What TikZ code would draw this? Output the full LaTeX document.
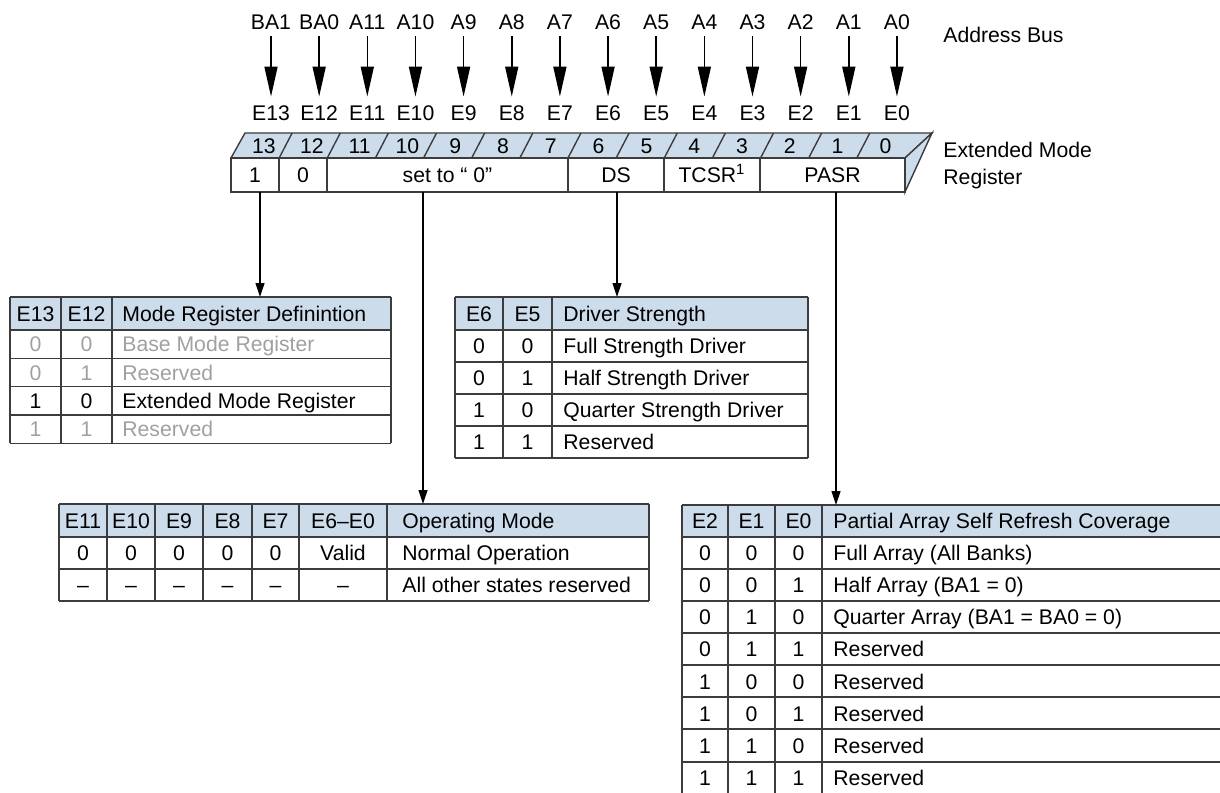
\documentclass[tikz,border=0pt]{standalone}
\usepackage{fontspec}
\setmainfont{Liberation Sans}
\usetikzlibrary{arrows.meta,positioning}

\definecolor{hdrblue}{RGB}{204,220,234}
\definecolor{rulegray}{RGB}{60,60,60}
\definecolor{dimgray}{RGB}{160,160,160}

\begin{document}
\begin{tikzpicture}[x=0.5pt, y=-0.5pt,
    txt/.style={font=\fontsize{10.6}{13}\selectfont, inner sep=0pt, text height=7.6pt, text depth=0pt},
    lft/.style={txt, anchor=west},
    busarrow/.style={-{Triangle[length=15pt,width=6.5pt]}, line width=0.8pt, shorten <=3.2pt, shorten >=4.2pt},
    link/.style={-{Triangle[length=7pt,width=4.5pt]}, line width=0.6pt},
    grid/.style={draw=rulegray, line width=0.7pt}
]
\useasboundingbox (0,0) rectangle (1220,792);
\clip (0,0) rectangle (1220,792);

\foreach \bit/\lab [count=\k from 0] in {13/BA1,12/BA0,11/A11,10/A10,9/A9,8/A8,7/A7,6/A6,5/A5,4/A4,3/A3,2/A2,1/A1,0/A0} {
  \node[txt] (a\bit) at ({271+\k*48.15},22) {\lab};
  \node[txt] (e\bit) at ({271+\k*48.15},113) {E\bit};
  \draw[busarrow] (a\bit) -- (e\bit);
}
\node[lft] (bus) at (943,35) {Address Bus};

% extended mode register
\filldraw[grid, fill=hdrblue] (231,158) -- (245,133) -- (932,133) -- (905,158) -- cycle;
\filldraw[grid, fill=hdrblue] (905,158) -- (932,133) -- (905,192) -- cycle;
\draw[grid] (231,158) rectangle (905,192);
\foreach \k in {1,...,13} \draw[grid] ({231+\k*48.14},158) -- ({244+\k*48.14},133);
\foreach \bit [count=\k from 0] in {13,...,0} \node[txt] (n\bit) at ({264+\k*47.8},145.5) {\bit};
\foreach \x in {279,327,568,664,760} \draw[grid] (\x,158) -- (\x,192);
\node[txt] (fone) at (255,175) {1};
\node[txt] (fzero) at (303,175) {0};
\node[txt] (fset) at (447.5,175) {set to “ 0”};
\node[txt] (fds) at (616,175) {DS};
\node[txt] (ftcsr) at (712,175) {TCSR\textsuperscript{1}};
\node[txt] (fpasr) at (832.5,175) {PASR};
\node[lft] (emr) at (943,150) {Extended Mode};
\node[lft, below=5.4pt of emr.south west, anchor=north west] (emr2) {Register};

% mode register definition
\coordinate (mrd) at (10,297);
\fill[hdrblue] (mrd) rectangle (391,330);
\foreach \y in {297,330,358.3,386.7,415,443.3} \draw[grid] (10,\y) -- (391,\y);
\foreach \x in {10,61,112,391} \draw[grid] (\x,297) -- (\x,443.3);
\node[txt] (mrd-0-1) at (35.5,313.5) {E13};
\node[txt] (mrd-0-2) at (86.5,313.5) {E12};
\node[lft] (mrd-0-3) at (122,313.5) {Mode Register Definintion};
\foreach \va/\vb/\vt/\vcol [count=\r] in {0/0/Base Mode Register/dimgray, 0/1/Reserved/dimgray, 1/0/Extended Mode Register/black, 1/1/Reserved/dimgray} {
  \node[txt, text=\vcol] (mrd-\r-1) at (35.5,{330+(\r-0.5)*28.33}) {\va};
  \node[txt, text=\vcol] (mrd-\r-2) at (86.5,{330+(\r-0.5)*28.33}) {\vb};
  \node[lft, text=\vcol] (mrd-\r-3) at (122,{330+(\r-0.5)*28.33}) {\vt};
}

% driver strength
\coordinate (drv) at (455,297);
\fill[hdrblue] (drv) rectangle (808,330);
\foreach \y in {297,330,362,394,426,458} \draw[grid] (455,\y) -- (808,\y);
\foreach \x in {455,503,552,808} \draw[grid] (\x,297) -- (\x,458);
\node[txt] (drv-0-1) at (479,313.5) {E6};
\node[txt] (drv-0-2) at (527.5,313.5) {E5};
\node[lft] (drv-0-3) at (563,313.5) {Driver Strength};
\foreach \va/\vb/\vt [count=\r] in {0/0/Full Strength Driver, 0/1/Half Strength Driver, 1/0/Quarter Strength Driver, 1/1/Reserved} {
  \node[txt] (drv-\r-1) at (479,{330+(\r-0.5)*32}) {\va};
  \node[txt] (drv-\r-2) at (527.5,{330+(\r-0.5)*32}) {\vb};
  \node[lft] (drv-\r-3) at (563,{330+(\r-0.5)*32}) {\vt};
}

% operating mode
\coordinate (opm) at (59,504);
\fill[hdrblue] (opm) rectangle (649,537);
\foreach \y in {504,537,569,601} \draw[grid] (59,\y) -- (649,\y);
\foreach \x in {59,107,155,203,252,299,387,649} \draw[grid] (\x,504) -- (\x,601);
\foreach \vt/\x [count=\k] in {E11/83,E10/131,E9/179,E8/227.5,E7/275.5,E6–E0/343}
  \node[txt] (opm-0-\k) at (\x,520.5) {\vt};
\node[lft] (opm-0-7) at (402,520.5) {Operating Mode};
\foreach \va/\vb/\vc/\vd/\ve/\vf/\vt [count=\r] in {0/0/0/0/0/Valid/Normal Operation, –/–/–/–/–/–/All other states reserved} {
  \node[txt] (opm-\r-1) at (83,{537+(\r-0.5)*32}) {\va};
  \node[txt] (opm-\r-2) at (131,{537+(\r-0.5)*32}) {\vb};
  \node[txt] (opm-\r-3) at (179,{537+(\r-0.5)*32}) {\vc};
  \node[txt] (opm-\r-4) at (227.5,{537+(\r-0.5)*32}) {\vd};
  \node[txt] (opm-\r-5) at (275.5,{537+(\r-0.5)*32}) {\ve};
  \node[txt] (opm-\r-6) at (343,{537+(\r-0.5)*32}) {\vf};
  \node[lft] (opm-\r-7) at (402,{537+(\r-0.5)*32}) {\vt};
}

% partial array self refresh
\coordinate (pasr) at (682,505);
\fill[hdrblue] (pasr) rectangle (1225,537);
\foreach \y in {505,537,569,601,633,665,697,729,762,794} \draw[grid] (682,\y) -- (1225,\y);
\foreach \x in {682,728,775,822} \draw[grid] (\x,505) -- (\x,794);
\node[txt] (pasr-0-1) at (705,521) {E2};
\node[txt] (pasr-0-2) at (751.5,521) {E1};
\node[txt] (pasr-0-3) at (798.5,521) {E0};
\node[lft] (pasr-0-4) at (833,521) {Partial Array Self Refresh Coverage};
\foreach \va/\vb/\vc/\vt [count=\r] in {0/0/0/Full Array (All Banks), 0/0/1/Half Array (BA1 = 0), 0/1/0/Quarter Array (BA1 = BA0 = 0), 0/1/1/Reserved, 1/0/0/Reserved, 1/0/1/Reserved, 1/1/0/Reserved, 1/1/1/Reserved} {
  \node[txt] (pasr-\r-1) at (705,{537+(\r-0.5)*32.1}) {\va};
  \node[txt] (pasr-\r-2) at (751.5,{537+(\r-0.5)*32.1}) {\vb};
  \node[txt] (pasr-\r-3) at (798.5,{537+(\r-0.5)*32.1}) {\vc};
  \node[lft] (pasr-\r-4) at (833,{537+(\r-0.5)*32.1}) {\vt};
}

\coordinate (s13) at (260,192);
\coordinate (sset) at (423,192);
\coordinate (sds) at (617,192);
\coordinate (spasr) at (836,192);
\draw[link] (s13) -- (s13 |- mrd);
\draw[link] (sset) -- (sset |- opm);
\draw[link] (sds) -- (sds |- drv);
\draw[link] (spasr) -- (spasr |- pasr);
\end{tikzpicture}
\end{document}
